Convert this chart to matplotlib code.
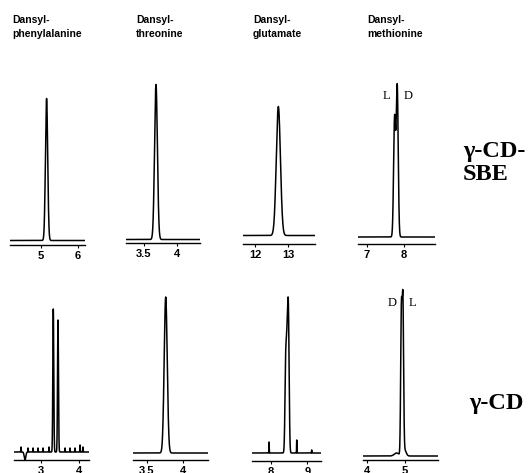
import numpy as np
import matplotlib
matplotlib.use("Agg")
import matplotlib.pyplot as plt

W, H = 531, 473

headers = [("Dansyl-", "phenylalanine"), ("Dansyl-", "threonine"),
           ("Dansyl-", "glutamate"), ("Dansyl-", "methionine")]
row_labels = [["\u03b3-CD-", "SBE"], ["\u03b3-CD"]]

# time windows (min) and ticks, gamma-CD-SBE row
xlims_sbe = [(4.18, 6.19), (3.237, 4.338), (11.63, 13.80), (6.78, 8.82)]
ticks_sbe = [[5, 6], [3.5, 4], [12, 13], [7, 8]]
ticklabels_sbe = [["5", "6"], ["3.5", "4"], ["12", "13"], ["7", "8"]]
# gamma-CD row
xlims_cd = [(2.308, 4.251), (3.306, 4.355), (7.468, 9.377), (3.911, 5.869)]
ticks_cd = [[3, 4], [3.5, 4], [8, 9], [4, 5]]
ticklabels_cd = [["3", "4"], ["3.5", "4"], ["8", "9"], ["4", "5"]]

# peaks: (time min, height a.u., sigma min)
peaks_sbe = [
    [(5.16, 142, 0.03)],
    [(3.683, 155, 0.021)],
    [(12.70, 129, 0.062)],
    [(7.745, 118, 0.026), (7.815, 150, 0.026)],
]
peaks_cd = [
    [(3.326, 143, 0.012), (3.448, 132, 0.012), (2.593, -8, 0.02),
     (2.49, 5, 0.004), (2.671, 4, 0.004), (2.801, 4, 0.004), (2.930, 4, 0.004),
     (3.060, 4, 0.004), (3.215, 5, 0.004), (3.630, 4, 0.004), (3.759, 4, 0.004),
     (3.889, 4, 0.004), (4.018, 7, 0.004), (4.096, 5, 0.004)],
    [(3.764, 156, 0.021)],
    [(8.405, 90, 0.02), (8.445, 95, 0.02), (8.48, 127, 0.02),
     (7.945, 11, 0.004), (8.708, 13, 0.004), (9.12, 3, 0.004)],
    [(4.905, 141, 0.018), (4.945, 148, 0.018), (4.78, 3, 0.06), (4.99, 6, 0.04)],
]

# enantiomer labels: (text, peak index, height, pixel offset, ha)
enant_sbe = [("L", 0, 141, -6, "right"), ("D", 1, 141, 8, "left")]
enant_cd = [("D", 0, 153, -5, "right"), ("L", 1, 153, 7, "left")]

# layout in reference pixels
ax_x_sbe = [(10, 85), (126, 200), (242.7, 315), (358.3, 435)]
ax_y_sbe = [245, 243.5, 244, 244.5]
gap_sbe = [4.5, 4, 8.5, 7.5]
ax_x_cd = [(14, 89), (132.7, 208.3), (251.7, 321), (363.3, 438.3)]
ax_y_cd = [460, 460, 461, 460]
gap_cd = [8, 7, 8, 4]
AX_H = 175

plt.rcParams['font.family'] = ['Liberation Sans', 'DejaVu Sans']
fig = plt.figure(figsize=(W / 100, H / 100), dpi=100)


def trace(xlim, peaks):
    t = np.linspace(xlim[0], xlim[1], 6000)
    y = np.zeros_like(t)
    for t0, h, s in peaks:
        y += h * np.exp(-0.5 * ((t - t0) / s) ** 2)
    return t, y


def draw_row(xlims, ticks, labels, peaks, ax_x, ax_y, gaps, enant):
    for i in range(4):
        x0, x1 = ax_x[i]
        rect = [x0 / W, 1 - ax_y[i] / H, (x1 - x0) / W, AX_H / H]
        ax = fig.add_axes(rect)
        ax.patch.set_alpha(0)
        t, y = trace(xlims[i], peaks[i])
        ax.plot(t, y, color='black', lw=1.1)
        ax.set_xlim(*xlims[i])
        ax.set_ylim(-gaps[i], AX_H - gaps[i])
        for s in ['top', 'left', 'right']:
            ax.spines[s].set_visible(False)
        ax.spines['bottom'].set_linewidth(1.0)
        ax.set_yticks([])
        ax.set_xticks(ticks[i])
        ax.set_xticklabels(labels[i], fontsize=8, fontweight='bold')
        ax.tick_params(axis='x', length=2.5, width=0.8, pad=1.5)
        if i == 3:
            pk = peaks[i]
            mid = (pk[0][0] + pk[1][0]) / 2
            for txt, k, hgt, off, ha in enant:
                ax.annotate(txt, xy=(mid, hgt), xytext=(off, 0),
                            textcoords='offset pixels', ha=ha, va='center',
                            fontsize=9, family='Liberation Serif')


draw_row(xlims_sbe, ticks_sbe, ticklabels_sbe, peaks_sbe,
         ax_x_sbe, ax_y_sbe, gap_sbe, enant_sbe)
draw_row(xlims_cd, ticks_cd, ticklabels_cd, peaks_cd,
         ax_x_cd, ax_y_cd, gap_cd, enant_cd)

hdr_x = [12.7, 136, 253, 367]
for (l1, l2), x in zip(headers, hdr_x):
    fig.text(x / W, 1 - 22.7 / H, l1, fontsize=7.5, fontweight='bold', va='baseline')
    fig.text(x / W, 1 - 37 / H, l2, fontsize=7.5, fontweight='bold', va='baseline')

serif = dict(fontsize=17.5, fontweight='bold', family='Liberation Serif',
             ha='left', va='center')
fig.text(463 / W, 1 - 151 / H, row_labels[0][0], **serif)
fig.text(463 / W, 1 - 175 / H, row_labels[0][1], **serif)
fig.text(469 / W, 1 - 403 / H, row_labels[1][0], **serif)

fig.savefig("out.png", dpi=100)
